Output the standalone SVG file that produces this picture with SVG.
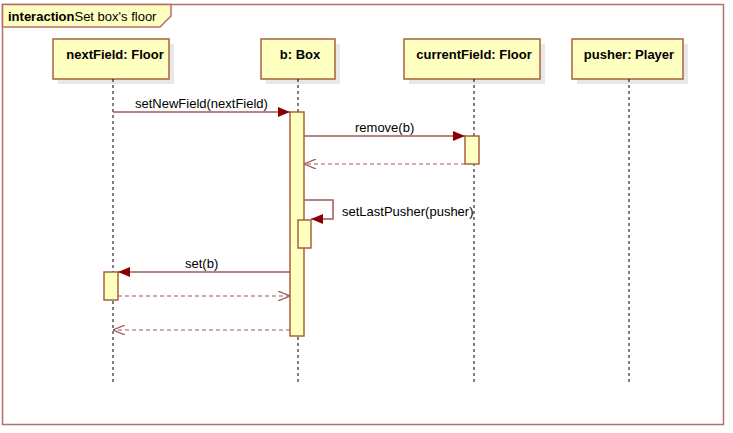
<svg xmlns="http://www.w3.org/2000/svg" width="733" height="433" viewBox="0 0 733 433">
<style>
text{font-family:"Liberation Sans",Arial,sans-serif;font-size:13px;fill:#000}
.hd{font-weight:bold;font-size:13px}
.box{fill:#FFFFC0;stroke:#A8623E;stroke-width:1.5}
.sh{fill:#E8E8E8}
.life{stroke:#000;stroke-width:1;stroke-dasharray:3,3}
.act{fill:#FFFFC0;stroke:#A8623E;stroke-width:1.5}
.msg{stroke:#A05A5A;stroke-width:1.5;fill:none}
.ret{stroke:#A05A5A;stroke-width:1.2;stroke-dasharray:4,3;fill:none}
</style>
<defs>
<marker id="fill" markerWidth="12" markerHeight="10" refX="12" refY="5" orient="auto" markerUnits="userSpaceOnUse">
<path d="M0,0 L12,5 L0,10 z" fill="#8B0000"/>
</marker>
<marker id="open" markerWidth="12" markerHeight="10" refX="12" refY="5" orient="auto" markerUnits="userSpaceOnUse">
<path d="M0,0 L12,5 L0,10" fill="none" stroke="#A05A5A" stroke-width="1.2"/>
</marker>
</defs>
<rect width="733" height="433" fill="#fff"/>
<g id="frame">
<rect x="2.5" y="4.5" width="721" height="420" fill="none" stroke="#B07070" stroke-width="1.5"/>
<path d="M2.5,4.5 H171 V16 L160,27 H2.5 z" fill="#FFFFC0" stroke="#B07070" stroke-width="1.5"/>
<text x="8" y="21"><tspan font-weight="bold">interaction</tspan>Set box's floor</text>
</g>
<g id="nextField">
<rect class="sh" x="58" y="44" width="116" height="40"/>
<rect class="box" x="53" y="39" width="116" height="40"/>
<text class="hd" x="115" y="59" text-anchor="middle">nextField: Floor</text>
<line class="life" x1="113" y1="79" x2="113" y2="382"/>
</g>
<g id="b">
<rect class="sh" x="266" y="44" width="74" height="40"/>
<rect class="box" x="261" y="39" width="74" height="40"/>
<text class="hd" x="300" y="59" text-anchor="middle">b: Box</text>
<line class="life" x1="298" y1="79" x2="298" y2="382"/>
</g>
<g id="currentField">
<rect class="sh" x="409" y="44" width="136" height="40"/>
<rect class="box" x="404" y="39" width="136" height="40"/>
<text class="hd" x="474" y="59" text-anchor="middle">currentField: Floor</text>
<line class="life" x1="474" y1="79" x2="474" y2="382"/>
</g>
<g id="pusher">
<rect class="sh" x="577" y="44" width="111" height="40"/>
<rect class="box" x="572" y="39" width="111" height="40"/>
<text class="hd" x="629" y="59" text-anchor="middle">pusher: Player</text>
<line class="life" x1="629" y1="79" x2="629" y2="382"/>
</g>
<g id="activations">
<rect class="act" x="290" y="112" width="14" height="224"/>
<rect class="act" x="465" y="136" width="14" height="28"/>
<rect class="act" x="298" y="220" width="13" height="28"/>
<rect class="act" x="104" y="272" width="14" height="28"/>
</g>
<g id="connectors">
<line class="msg" x1="113" y1="112" x2="290" y2="112" marker-end="url(#fill)"/>
<text x="135" y="108">setNewField(nextField)</text>
<line class="msg" x1="304" y1="136" x2="465" y2="136" marker-end="url(#fill)"/>
<text x="355" y="132">remove(b)</text>
<line class="ret" x1="465" y1="164" x2="304" y2="164" marker-end="url(#open)"/>
<path class="msg" d="M304,200 H333 V219 H311" marker-end="url(#fill)"/>
<text x="342" y="216">setLastPusher(pusher)</text>
<line class="msg" x1="290" y1="272" x2="118" y2="272" marker-end="url(#fill)"/>
<text x="185" y="268">set(b)</text>
<line class="ret" x1="118" y1="296" x2="290" y2="296" marker-end="url(#open)"/>
<line class="ret" x1="290" y1="330" x2="113" y2="330" marker-end="url(#open)"/>
</g>
</svg>
